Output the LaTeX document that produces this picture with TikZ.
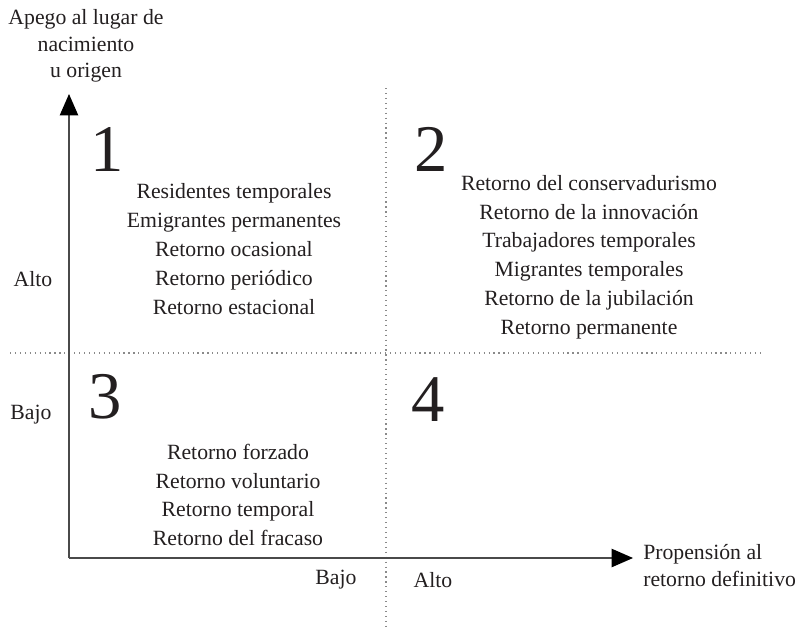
\documentclass[tikz,border=0pt]{standalone}
\usepackage{fontspec}
\setmainfont{Liberation Serif}
\usetikzlibrary{arrows.meta}
\definecolor{ink}{HTML}{231F20}
\definecolor{axis}{HTML}{4A4A4A}
\definecolor{dots}{HTML}{8A8A8A}
\begin{document}
\begin{tikzpicture}[x=0.75pt,y=-0.75pt,
  txt/.style={inner sep=0pt,text=ink,font=\fontsize{16.3}{19}\selectfont},
  lst/.style={inner sep=0pt,text=ink,font=\fontsize{16.3}{21.6}\selectfont,align=center},
  bignum/.style={inner sep=0pt,text=ink,font=\fontsize{50}{50}\selectfont},
  axisline/.style={draw=axis,line width=1.5pt,-{Triangle[length=16pt,width=14pt,color=black,fill=black,line width=0pt]}},
  dotline/.style={draw=dots,line width=1.4pt,dash pattern=on 0.9pt off 2.8pt}]
\useasboundingbox (0,0) rectangle (804,629);
% dotted quadrant lines
\coordinate (vt) at (386,88);
\coordinate (vb) at (386,626);
\coordinate (hl) at (10,353);
\coordinate (hr) at (762,353);
\draw[dotline] (vt) -- (vb);
\draw[dotline] (hl) -- (hr);
% axes
\coordinate (o) at (69,558);
\coordinate (yt) at (69,94);
\coordinate (xr) at (633,558);
\draw[axisline] (o) -- (yt);
\draw[axisline] (o) -- (xr);
% axis titles
\node[txt,align=center,font=\fontsize{16.3}{19.8}\selectfont] (ytitle) at (86,46) {Apego al lugar de\\nacimiento\\u origen};
\node[txt,align=left,anchor=west,font=\fontsize{16.3}{20.3}\selectfont] (xtitle) at (643,566) {Propensión al\\retorno definitivo};
% axis labels
\node[txt] (alto) at (33,279) {Alto};
\node[txt] (bajo) at (31,415) {Bajo};
\node[txt] (bajox) at (336,580) {Bajo};
\node[txt] (altox) at (433,580) {Alto};
% quadrant numbers
\node[bignum] (n1) at (107,149) {1};
\node[bignum] (n2) at (431,149) {2};
\node[bignum] (n3) at (105,397) {3};
\node[bignum] (n4) at (428,400) {4};
% lists
\node[lst] (q1) at (234,249) {Residentes temporales\\Emigrantes permanentes\\Retorno ocasional\\Retorno periódico\\Retorno estacional};
\node[lst] (q2) at (589,257) {Retorno del conservadurismo\\Retorno de la innovación\\Trabajadores temporales\\Migrantes temporales\\Retorno de la jubilación\\Retorno permanente};
\node[lst] (q3) at (238,495) {Retorno forzado\\Retorno voluntario\\Retorno temporal\\Retorno del fracaso};
\end{tikzpicture}
\end{document}
